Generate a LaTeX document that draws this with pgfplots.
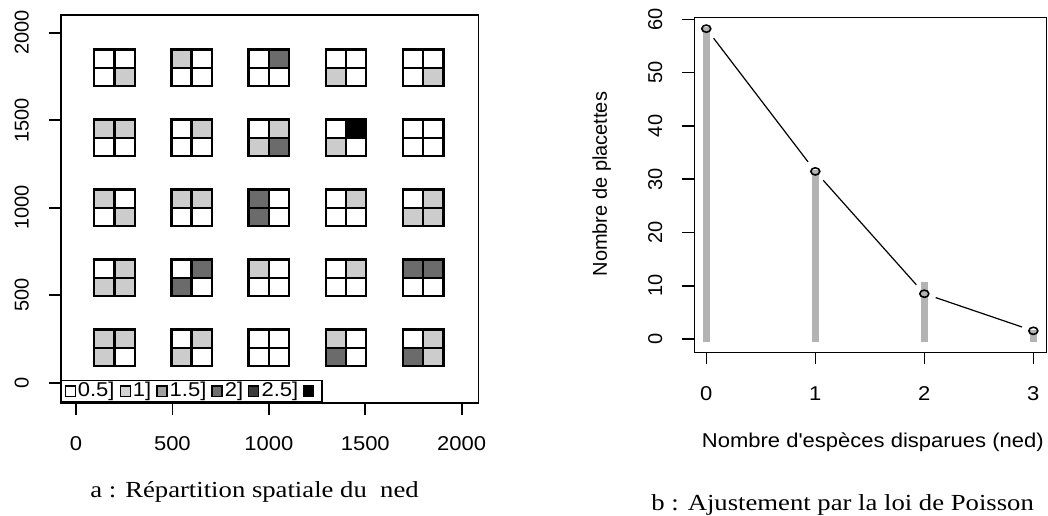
\documentclass[border=0pt]{standalone}
\usepackage{pgfplots}
\pgfplotsset{compat=1.18}
\usepackage{fontspec}
\setmainfont{Liberation Sans}
\newfontfamily\capfont{Liberation Serif}
\definecolor{cl}{HTML}{CCCCCC}
\definecolor{cd}{HTML}{6B6B6B}
\definecolor{lgtwo}{HTML}{D3D3D3}
\definecolor{lgthree}{HTML}{A0A0A0}
\definecolor{lgfour}{HTML}{6E6E6E}
\definecolor{lgfive}{HTML}{3A3A3A}
\definecolor{barg}{HTML}{B3B3B3}
\begin{document}
\begin{tikzpicture}
\useasboundingbox (0,0) rectangle (524pt,-257.5pt);
\pgfplotsset{
  rstyle/.style={
    scale only axis,
    axis line style={line width=0.8pt},
    tick style={line width=0.8pt, black},
    tick align=outside,
    major tick length=6pt,
    xtick pos=left, ytick pos=left,
    /pgf/number format/assume math mode=true,
    /pgf/number format/1000 sep={},
    scaled ticks=false,
    xticklabel style={font=\fontsize{10}{12}\selectfont, xscale=1.1, anchor=center},
    yticklabel style={font=\fontsize{10}{12}\selectfont, rotate=90, anchor=center},
    xticklabel shift=14.5pt,
    yticklabel shift=13.5pt,
  }
}
% ---------------- panel a ----------------
\begin{axis}[rstyle,
  at={(30.35pt,-201.35pt)}, anchor=south west,
  width=208.8pt, height=194pt,
  xmin=-79, xmax=2086, ymin=-114, ymax=2103,
  xtick={0,500,1000,1500,2000}, ytick={0,500,1000,1500,2000},
  legend columns=6,
  legend image code/.code={\draw[#1, line width=0.6pt] (0pt,-2.6pt) rectangle (5pt,2.6pt);},
  legend style={at={(0,0)}, anchor=south west, draw=black, line width=0.8pt,
    inner xsep=1.5pt, inner ysep=0.5pt, font=\fontsize{10}{11}\selectfont,
    nodes={inner xsep=1pt, inner ysep=0.5pt, xscale=1.1},
    /tikz/every odd column/.style={column sep=0pt},
    /tikz/every even column/.style={column sep=1.4pt}},
]
% white cells
\addplot[forget plot, only marks, mark=square*, mark size=4.59pt, line width=1.15pt,
  mark options={xscale=1.1, draw=black, fill=white}] coordinates {
 (147.5,1852.5) (252.5,1852.5) (147.5,1747.5)
 (652.5,1852.5) (547.5,1747.5) (652.5,1747.5)
 (947.5,1852.5) (947.5,1747.5) (1052.5,1747.5)
 (1347.5,1852.5) (1452.5,1852.5) (1452.5,1747.5)
 (1747.5,1852.5) (1852.5,1852.5) (1747.5,1747.5)
 (147.5,1347.5) (252.5,1347.5)
 (547.5,1452.5) (547.5,1347.5) (652.5,1347.5)
 (947.5,1452.5)
 (1347.5,1452.5) (1452.5,1347.5)
 (1747.5,1452.5) (1852.5,1452.5) (1747.5,1347.5) (1852.5,1347.5)
 (252.5,1052.5) (147.5,947.5)
 (547.5,947.5) (652.5,947.5)
 (1052.5,1052.5) (1052.5,947.5)
 (1347.5,1052.5) (1347.5,947.5) (1452.5,947.5)
 (1747.5,1052.5)
 (147.5,652.5)
 (547.5,652.5) (652.5,547.5)
 (1052.5,652.5) (947.5,547.5) (1052.5,547.5)
 (1347.5,652.5) (1347.5,547.5) (1452.5,547.5)
 (1747.5,547.5) (1852.5,547.5)
 (252.5,147.5)
 (547.5,252.5) (652.5,147.5)
 (947.5,252.5) (1052.5,252.5) (947.5,147.5) (1052.5,147.5)
 (1452.5,252.5) (1452.5,147.5)
 (1747.5,252.5)
};
% light grey cells
\addplot[forget plot, only marks, mark=square*, mark size=4.59pt, line width=1.15pt,
  mark options={xscale=1.1, draw=black, fill=cl}] coordinates {
 (252.5,1747.5) (547.5,1852.5) (1347.5,1747.5) (1852.5,1747.5)
 (147.5,1452.5) (252.5,1452.5) (652.5,1452.5) (1052.5,1452.5) (947.5,1347.5) (1347.5,1347.5)
 (147.5,1052.5) (252.5,947.5) (547.5,1052.5) (652.5,1052.5) (1452.5,1052.5)
 (1852.5,1052.5) (1747.5,947.5) (1852.5,947.5)
 (252.5,652.5) (147.5,547.5) (252.5,547.5) (947.5,652.5) (1452.5,652.5)
 (147.5,252.5) (252.5,252.5) (147.5,147.5) (652.5,252.5) (547.5,147.5)
 (1347.5,252.5) (1852.5,252.5) (1852.5,147.5)
};
% dark grey cells
\addplot[forget plot, only marks, mark=square*, mark size=4.59pt, line width=1.15pt,
  mark options={xscale=1.1, draw=black, fill=cd}] coordinates {
 (1052.5,1852.5)
 (1052.5,1347.5)
 (947.5,1052.5) (947.5,947.5)
 (652.5,652.5) (547.5,547.5) (1747.5,652.5) (1852.5,652.5)
 (1347.5,147.5) (1747.5,147.5)
};
% black cells
\addplot[forget plot, only marks, mark=square*, mark size=4.59pt, line width=1.15pt,
  mark options={xscale=1.1, draw=black, fill=black}] coordinates {
 (1452.5,1452.5)
};
\addlegendimage{draw=black, fill=white}
\addlegendentry{0.5]}
\addlegendimage{draw=black, fill=lgtwo}
\addlegendentry{1]}
\addlegendimage{draw=black, fill=lgthree}
\addlegendentry{1.5]}
\addlegendimage{draw=black, fill=lgfour}
\addlegendentry{2]}
\addlegendimage{draw=black, fill=lgfive}
\addlegendentry{2.5]}
\addlegendimage{draw=black, fill=black}
\addlegendentry{}
\end{axis}
% ---------------- panel b ----------------
\begin{axis}[rstyle,
  at={(347.15pt,-176.15pt)}, anchor=south west,
  width=176.05pt, height=167.5pt,
  xmin=-0.11, xmax=3.12, ymin=-2.5, ymax=60.4,
  xtick={0,1,2,3}, ytick={0,10,20,30,40,50,60},
  xlabel={Nombre d\textquotesingle esp\`eces disparues (ned)},
  ylabel={Nombre de placettes},
  xlabel style={at={(axis description cs:0.507,-0.267)}, anchor=center,
    font=\fontsize{10}{12}\selectfont, xscale=1.1},
  ylabel style={at={(axis description cs:-0.263,0.502)}, anchor=center,
    font=\fontsize{10}{12}\selectfont},
]
\addplot[ycomb, color=barg, line width=3.5pt, line cap=rect] coordinates {(0,58) (1,31) (2,10) (3,1)};
\addplot[black, line width=0.6pt, shorten >=6pt, shorten <=6pt] coordinates {(0,58.27) (1,31.47)};
\addplot[black, line width=0.6pt, shorten >=6pt, shorten <=6pt] coordinates {(1,31.47) (2,8.50)};
\addplot[black, line width=0.6pt, shorten >=6pt, shorten <=6pt] coordinates {(2,8.50) (3,1.53)};
\addplot[only marks, mark=o, mark size=1.8pt, line width=0.8pt, black,
  mark options={xscale=1.25}] coordinates {(0,58.27) (1,31.47) (2,8.50) (3,1.53)};
\end{axis}
\node[anchor=base west, inner sep=0pt, xscale=1.16, font=\capfont\fontsize{11.5}{13}\selectfont]
  at (45pt,-248.5pt) {a : Répartition spatiale du\ \ ned};
\node[anchor=base west, inner sep=0pt, xscale=1.16, font=\capfont\fontsize{11.5}{13}\selectfont]
  at (325.5pt,-255pt) {b : Ajustement par la loi de Poisson};
\end{tikzpicture}
\end{document}
